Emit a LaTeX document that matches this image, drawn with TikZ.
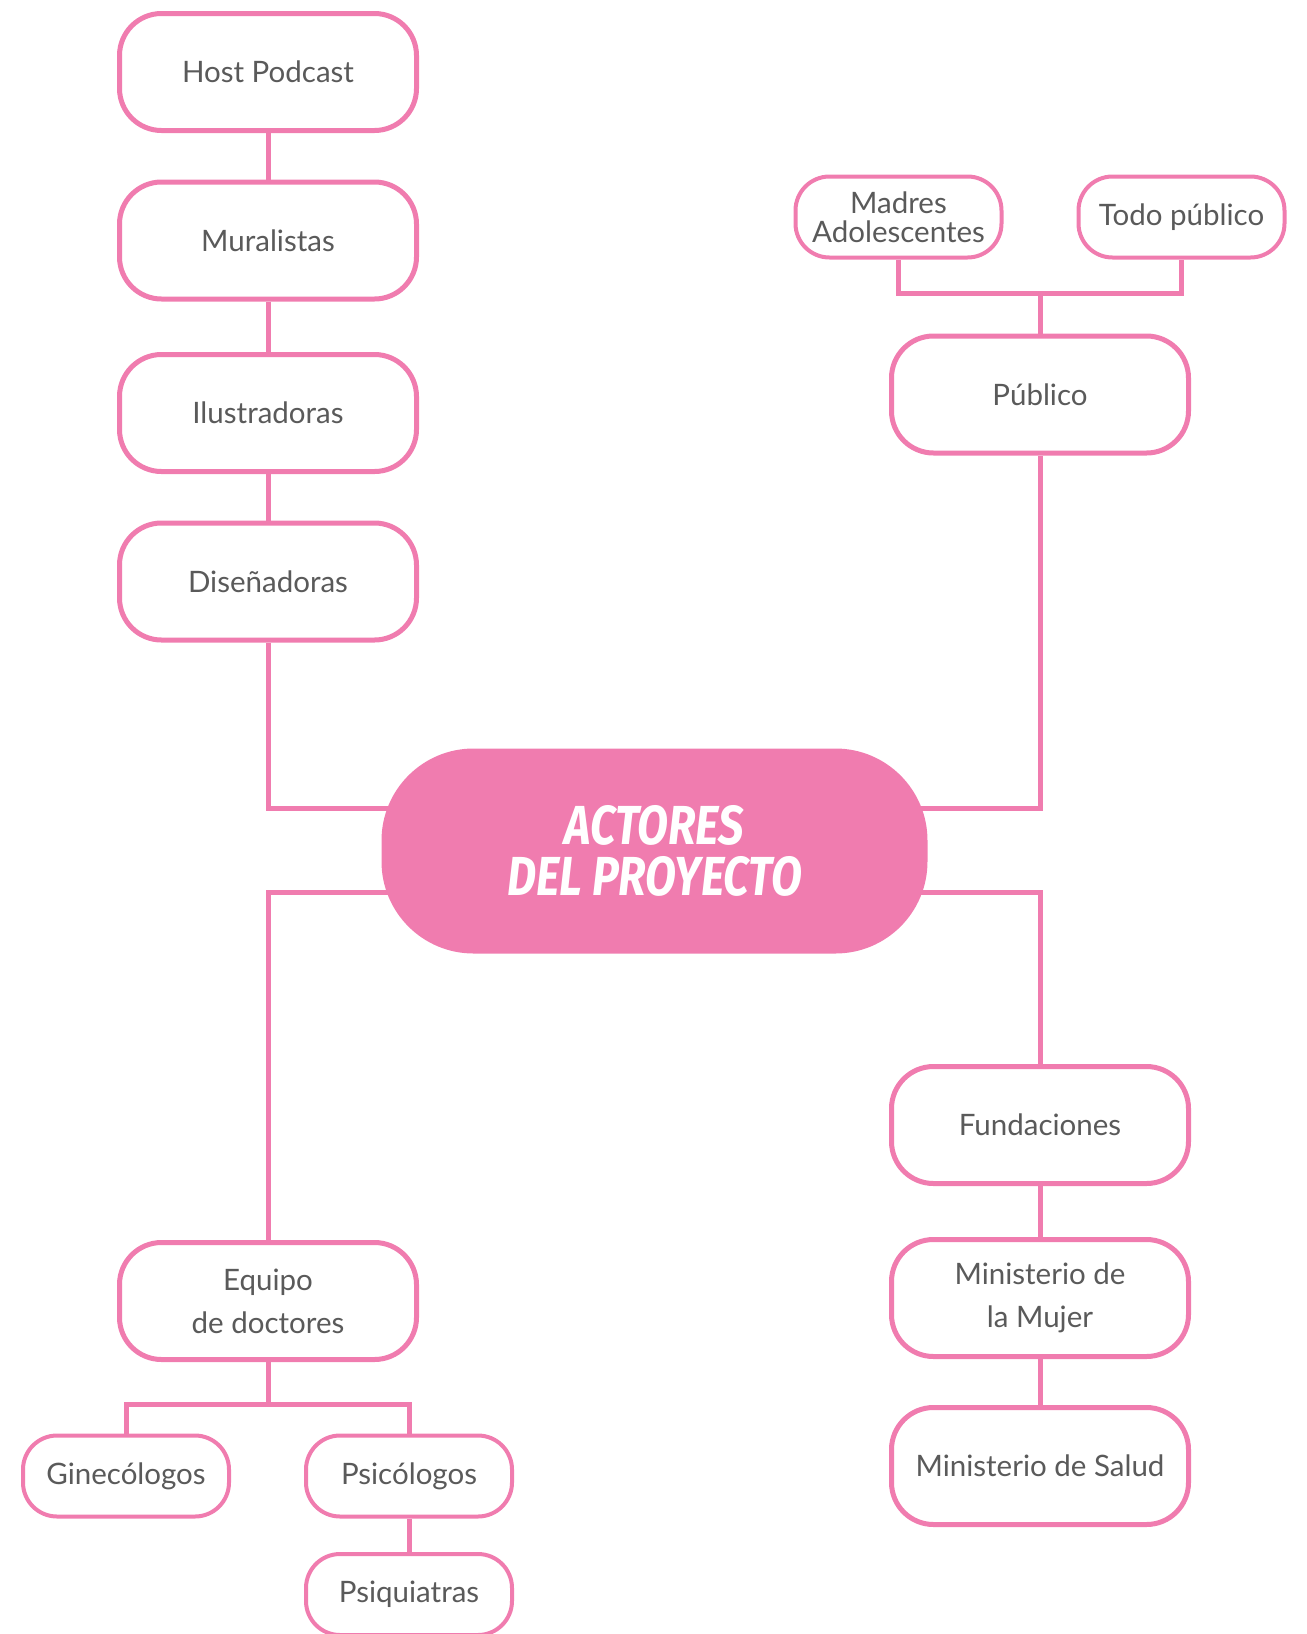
\documentclass[tikz,border=0pt]{standalone}
\usepackage{fontspec}
\setmainfont{Lato}
\newfontfamily\titlefont[FakeStretch=0.82]{Fira Sans}
\usetikzlibrary{positioning,backgrounds}
\definecolor{rosa}{RGB}{240,124,175}
\definecolor{texto}{RGB}{90,90,90}

\begin{document}
\begin{tikzpicture}[x=1pt, y=-1pt,
    actor/.style={draw=rosa, line width=5pt, fill=white, rounded corners=42pt,
        minimum width=297pt, minimum height=117pt, align=center, text=texto,
        font=\fontsize{29.5}{43}\selectfont, inner sep=0pt},
    subactor/.style={draw=rosa, line width=4pt, fill=white, rounded corners=34pt,
        minimum width=206pt, minimum height=81pt, align=center, text=texto,
        font=\fontsize{29.5}{29}\selectfont, inner sep=0pt},
    central/.style={fill=rosa, rounded corners=92pt, minimum width=546pt,
        minimum height=205pt, align=center, text=white,
        font=\titlefont\bfseries\itshape\fontsize{55}{51}\selectfont},
    link/.style={draw=rosa, line width=5pt}]
    \useasboundingbox (0,0) rectangle (1307,1634);

    % Central node
    \node[central] (centro) at (654.5,851) {ACTORES\\DEL PROYECTO};

    % Left branch
    \node[actor] (host) at (268,72) {Host Podcast};
    \node[actor] (mural) at (268,240.5) {Muralistas};
    \node[actor] (ilus) at (268,413) {Ilustradoras};
    \node[actor] (disen) at (268,581.5) {Diseñadoras};

    % Public branch
    \node[actor] (publico) at (1040,394.5) {Público};
    \node[subactor] (madres) at (898.5,217) {Madres\\Adolescentes};
    \node[subactor] (todo) at (1181.5,217) {Todo público};

    % Institutions
    \node[actor] (fund) at (1040,1125) {Fundaciones};
    \node[actor] (mujer) at (1040,1298) {Ministerio de\\la Mujer};
    \node[actor] (salud) at (1040,1466) {Ministerio de Salud};

    % Doctors
    \node[actor] (equipo) at (268,1301) {Equipo\\de doctores};
    \node[subactor] (gine) at (126,1476) {Ginecólogos};
    \node[subactor] (psico) at (409,1476) {Psicólogos};
    \node[subactor] (psiq) at (409,1594.5) {Psiquiatras};

    % Junctions
    \coordinate (izqA) at (268,808);
    \coordinate (izqB) at (268,892);
    \coordinate (derA) at (1040,808);
    \coordinate (derB) at (1040,892);
    \coordinate (pub) at (1040,293);
    \coordinate (doc) at (268,1404);

    % Connectors
    \begin{scope}[on background layer]
        \draw[link] (host.south) -- (mural.north);
        \draw[link] (mural.south) -- (ilus.north);
        \draw[link] (ilus.south) -- (disen.north);
        \draw[link] (disen.south) -- (izqA) -- (izqA -| centro.center);
        \draw[link] (centro.center |- izqB) -- (izqB) -- (equipo.north);
        \draw[link] (publico.south) -- (derA) -- (derA -| centro.center);
        \draw[link] (centro.center |- derB) -- (derB) -- (fund.north);
        \draw[link] (fund.south) -- (mujer.north);
        \draw[link] (mujer.south) -- (salud.north);
        \draw[link] (madres.south) |- (pub) -| (todo.south);
        \draw[link] (pub) -- (publico.north);
        \draw[link] (gine.north) |- (doc) -| (psico.north);
        \draw[link] (equipo.south) -- (doc);
        \draw[link] (psico.south) -- (psiq.north);
    \end{scope}
\end{tikzpicture}
\end{document}
